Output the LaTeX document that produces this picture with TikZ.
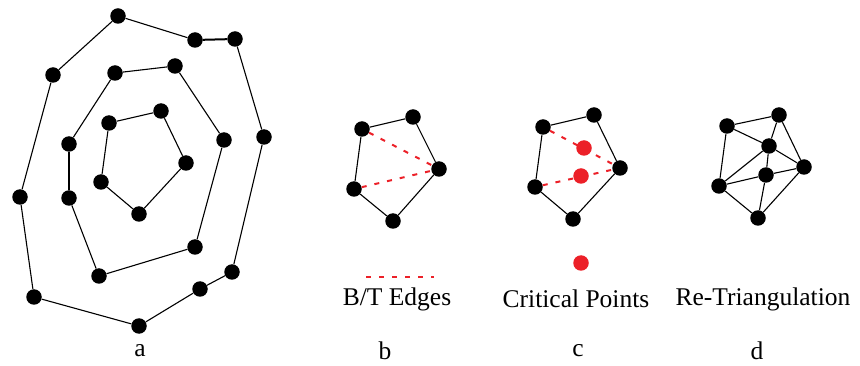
\documentclass[tikz,border=0pt]{standalone}
\usepackage{fontspec}
\setmainfont{Liberation Serif}
\usepackage{tikz}
\usetikzlibrary{positioning}
\definecolor{ptred}{RGB}{236,32,40}

\begin{document}
\begin{tikzpicture}[x=1pt, y=-1pt,
    vtx/.style={circle, fill=black, inner sep=0pt, minimum size=15.5pt},
    critPt/.style={circle, fill=ptred, inner sep=0pt, minimum size=15.5pt},
    ringEdge/.style={line width=1.1pt},
    boldEdge/.style={line width=2pt},
    btEdge/.style={draw=ptred, line width=2pt, dash pattern=on 5pt off 8pt},
    capLabel/.style={font=\fontsize{25.5}{29}\selectfont}
]
    \useasboundingbox (0,0) rectangle (860,366);

    % (a) outer ring
    \node[vtx] (o1) at (118,16) {};
    \node[vtx] (o2) at (195,40) {};
    \node[vtx] (o3) at (235,39) {};
    \node[vtx] (o4) at (264,137) {};
    \node[vtx] (o5) at (232,272) {};
    \node[vtx] (o6) at (200,289) {};
    \node[vtx] (o7) at (139,326) {};
    \node[vtx] (o8) at (34,297) {};
    \node[vtx] (o9) at (20,197) {};
    \node[vtx] (o10) at (53,75) {};
    \draw[ringEdge] (o1) -- (o2) (o3) -- (o4) -- (o5) -- (o6) -- (o7) -- (o8) -- (o9) -- (o10) -- (o1);
    \draw[boldEdge] (o2) -- (o3);

    % (a) middle ring
    \node[vtx] (m1) at (115,73) {};
    \node[vtx] (m2) at (175,66) {};
    \node[vtx] (m3) at (224,140) {};
    \node[vtx] (m4) at (195,247) {};
    \node[vtx] (m5) at (99,276) {};
    \node[vtx] (m6) at (69,198) {};
    \node[vtx] (m7) at (69,144) {};
    \draw[ringEdge] (m1) -- (m2) -- (m3) -- (m4) -- (m5) -- (m6) (m7) -- (m1);
    \draw[boldEdge] (m6) -- (m7);

    % (a) inner ring
    \node[vtx] (i1) at (109,123) {};
    \node[vtx] (i2) at (161,111) {};
    \node[vtx] (i3) at (186,163) {};
    \node[vtx] (i4) at (139,214) {};
    \node[vtx] (i5) at (101,182) {};
    \draw[ringEdge] (i1) -- (i2) -- (i3) -- (i4) -- (i5) -- (i1);

    % (b) B/T edges
    \node[vtx] (b1) at (362,129) {};
    \node[vtx] (b2) at (413,117) {};
    \node[vtx] (b3) at (439,169) {};
    \node[vtx] (b4) at (393,221) {};
    \node[vtx] (b5) at (354,189) {};
    \draw[ringEdge] (b1) -- (b2) -- (b3) -- (b4) -- (b5) -- (b1);
    \draw[btEdge] (b1) -- (b3) (b5) -- (b3);

    % (c) critical points
    \node[vtx] (c1) at (543,127) {};
    \node[vtx] (c2) at (594,115) {};
    \node[vtx] (c3) at (620,168) {};
    \node[vtx] (c4) at (573,219) {};
    \node[vtx] (c5) at (535,187) {};
    \draw[ringEdge] (c1) -- (c2) -- (c3) -- (c4) -- (c5) -- (c1);
    \draw[btEdge] (c1) -- (c3) (c5) -- (c3);
    \node[critPt] (cp1) at (584,148) {};
    \node[critPt] (cp2) at (581,176) {};

    % (d) re-triangulation
    \node[vtx] (d1) at (727,126) {};
    \node[vtx] (d2) at (779,115) {};
    \node[vtx] (d3) at (804,167) {};
    \node[vtx] (d4) at (758,218) {};
    \node[vtx] (d5) at (719,186) {};
    \node[vtx] (d6) at (769,146) {};
    \node[vtx] (d7) at (766,175) {};
    \draw[ringEdge] (d1) -- (d2) -- (d3) -- (d4) -- (d5) -- (d1);
    \draw[ringEdge] (d1) -- (d6) (d2) -- (d6) (d3) -- (d6) (d5) -- (d6) (d6) -- (d7);
    \draw[ringEdge] (d5) -- (d7) (d3) -- (d7) (d4) -- (d7);

    % Legend
    \coordinate (lgA) at (366,277);
    \coordinate (lgB) at (434,277);
    \draw[btEdge] (lgA) -- (lgB);
    \node[critPt] (lgPt) at (581,263) {};

    \node[capLabel] (txtB) at (397,299) {B/T Edges};
    \node[capLabel] (txtC) at (576,299) {Critical Points};
    \node[capLabel] (txtD) at (763,299) {Re-Triangulation};

    \node[capLabel] (lblA) at (140,351) {a};
    \node[capLabel] (lblB) at (385,351) {b};
    \node[capLabel] (lblC) at (578,351) {c};
    \node[capLabel] (lblD) at (757,351) {d};

\end{tikzpicture}
\end{document}
